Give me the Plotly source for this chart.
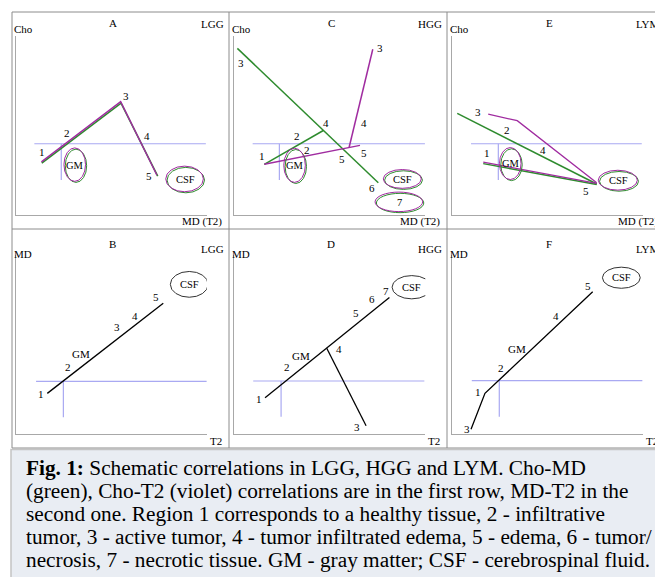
import plotly.graph_objects as go

# ---------------- data (schematic values in panel units 0..100) ----------------
# Panel A (LGG, Cho vs MD/T2)
A_green_x = [13.5, 55.0, 74.2]
A_green_y = [29.0, 62.5, 21.7]
A_violet_x = [13.3, 54.8, 73.8]
A_violet_y = [29.7, 63.3, 22.2]

# Panel C (HGG, Cho vs MD/T2)
C_green1_x = [1.6, 75.4]
C_green1_y = [93.1, 18.0]
C_green2_x = [15.7, 46.6]
C_green2_y = [28.3, 47.2]
C_violet1_x = [15.7, 65.8]
C_violet1_y = [28.3, 38.9]
C_violet2_x = [60.1, 72.5]
C_violet2_y = [37.7, 92.6]

# Panel E (LYM, Cho vs MD/T2)
E_green1_x = [2.6, 75.6]
E_green1_y = [56.8, 17.3]
E_green2_x = [16.2, 75.6]
E_green2_y = [28.7, 17.0]
E_violet1_x = [18.8, 34.0, 75.6]
E_violet1_y = [56.3, 52.7, 18.0]
E_violet2_x = [16.2, 75.6]
E_violet2_y = [29.5, 17.7]

# Panel B (LGG, MD vs T2)
B_x = [16.4, 77.1]
B_y = [22.7, 73.0]
# Panel D (HGG, MD vs T2)
D_main_x = [16.1, 81.2]
D_main_y = [20.3, 76.2]
D_branch_x = [48.4, 69.0]
D_branch_y = [47.9, 4.6]
# Panel F (LYM, MD vs T2)
F_x = [9.8, 17.1, 73.5]
F_y = [2.6, 22.7, 79.5]

# healthy-tissue reference (blue) lines: horizontal level, h-line x span, vertical x, vertical bottom
REF_Y = {"A": 39.8, "C": 39.8, "E": 39.8, "B": 29.4, "D": 29.6, "F": 29.8}
REF_X0 = {"A": 9.6, "C": 9.6, "E": 9.8, "B": 10.5, "D": 9.9, "F": 10.2}
REF_X1 = {"A": 99.4, "C": 99.8, "E": 99.2, "B": 99.8, "D": 99.5, "F": 99.5}
REF_VX = {"A": 23.7, "C": 23.6, "E": 24.1, "B": 24.8, "D": 24.5, "F": 24.6}
REF_VB = {"A": 19.6, "C": 19.6, "E": 19.6, "B": 9.3, "D": 9.7, "F": 9.7}

# ellipses: (panel, label, cx, cy, half-width, half-height)
ELLIPSES = [
    ("A", "GM", 31.0, 27.9, 5.7, 9.2),
    ("A", "CSF", 88.5, 19.9, 9.9, 7.0),
    ("C", "GM", 31.8, 27.5, 5.7, 9.4),
    ("C", "CSF", 88.2, 19.9, 10.0, 5.1),
    ("C", "7", 86.4, 7.1, 12.5, 5.3),
    ("E", "GM", 30.6, 28.5, 5.7, 8.8),
    ("E", "CSF", 86.9, 19.2, 10.3, 5.4),
    ("B", "CSF", 90.7, 83.6, 9.9, 7.2),
    ("D", "CSF", 92.9, 82.0, 10.3, 6.5),
    ("F", "CSF", 88.5, 87.3, 9.9, 5.9),
]

# point labels (panel, text, x, y)
LABELS = [
    ("A", "1", 13.8, 35.4), ("A", "2", 26.5, 46.0), ("A", "3", 57.6, 66.6),
    ("A", "4", 68.6, 44.1), ("A", "5", 69.6, 21.8),
    ("C", "3", 3.4, 85.1), ("C", "3", 76.3, 93.1), ("C", "4", 48.0, 51.2),
    ("C", "4", 68.1, 51.6), ("C", "2", 32.7, 44.3), ("C", "2", 37.9, 36.3),
    ("C", "1", 14.3, 33.0), ("C", "5", 56.2, 31.5), ("C", "5", 67.9, 34.8),
    ("C", "6", 71.9, 14.9),
    ("E", "3", 13.6, 57.7), ("E", "2", 28.8, 47.5), ("E", "4", 47.6, 36.3),
    ("E", "1", 18.0, 34.8), ("E", "5", 69.8, 13.4),
    ("B", "1", 13.1, 22.3), ("B", "2", 27.1, 37.6), ("B", "GM", 34.0, 44.5),
    ("B", "3", 52.7, 59.6), ("B", "4", 62.3, 66.1), ("B", "5", 73.3, 76.4),
    ("D", "1", 13.1, 19.6), ("D", "2", 27.7, 37.6), ("D", "GM", 34.9, 43.6),
    ("D", "4", 54.8, 47.3), ("D", "3", 64.1, 4.1), ("D", "5", 63.7, 67.4),
    ("D", "6", 72.3, 75.4), ("D", "7", 79.6, 79.9),
    ("F", "3", 7.5, 2.8), ("F", "1", 13.6, 23.3), ("F", "2", 25.5, 36.7),
    ("F", "GM", 34.0, 47.3), ("F", "4", 54.3, 66.1), ("F", "5", 70.9, 82.7),
]

PANEL_TITLES = {"A": "LGG", "C": "HGG", "E": "LYM", "B": "LGG", "D": "HGG", "F": "LYM"}
Y_NAMES = {"A": "Cho", "C": "Cho", "E": "Cho", "B": "MD", "D": "MD", "F": "MD"}
X_NAMES = {"A": "MD (T2)", "C": "MD (T2)", "E": "MD (T2)", "B": "T2", "D": "T2", "F": "T2"}

CAPTION = [
    "<b>Fig. 1:</b> Schematic correlations in LGG, HGG and LYM. Cho-MD",
    "(green), Cho-T2 (violet) correlations are in the first row, MD-T2 in the",
    "second one. Region 1 corresponds to a healthy tissue, 2 - infiltrative",
    "tumor, 3 - active tumor, 4 - tumor infiltrated edema, 5 - edema, 6 - tumor/",
    "necrosis, 7 - necrotic tissue. GM - gray matter; CSF - cerebrospinal fluid.",
]

# ---------------- styling / layout ----------------
W, H = 655, 577
FONT = "Liberation Serif"
GREEN = "#2e8b2e"
VIOLET = "#a02ca0"
BLUE = "#a9a9f2"
AXGREY = "#a8a8a8"
BORDER = "#8c8c8c"

COL_X = [16.0, 234.3, 452.3]
ROW_Y = [215.0, 434.0]
AW, AH = 191.0, 179.0
PANELS = {"A": (1, 0, 0), "C": (2, 1, 0), "E": (3, 2, 0),
          "B": (4, 0, 1), "D": (5, 1, 1), "F": (6, 2, 1)}


def px(x):
    return x / W


def py(y):
    return 1 - y / H


def refs(p):
    n = PANELS[p][0]
    return ("x" if n == 1 else f"x{n}"), ("y" if n == 1 else f"y{n}")


fig = go.Figure()


def line(p, xs, ys, color, width=1.5):
    xr, yr = refs(p)
    fig.add_trace(go.Scatter(x=xs, y=ys, mode="lines", xaxis=xr, yaxis=yr,
                             line=dict(color=color, width=width),
                             hoverinfo="skip", showlegend=False))


# blue reference lines
for p in PANELS:
    line(p, [REF_X0[p], REF_X1[p], None, REF_VX[p], REF_VX[p]],
         [REF_Y[p], REF_Y[p], None, REF_Y[p], REF_VB[p]], BLUE, 1.2)

line("A", A_green_x, A_green_y, GREEN, 1.6)
line("A", A_violet_x, A_violet_y, VIOLET, 1.4)
line("C", C_green1_x, C_green1_y, GREEN)
line("C", C_green2_x, C_green2_y, GREEN)
line("C", C_violet1_x, C_violet1_y, VIOLET)
line("C", C_violet2_x, C_violet2_y, VIOLET)
line("E", E_green1_x, E_green1_y, GREEN)
line("E", E_green2_x, E_green2_y, GREEN)
line("E", E_violet1_x, E_violet1_y, VIOLET, 1.3)
line("E", E_violet2_x, E_violet2_y, VIOLET, 1.3)
line("B", B_x, B_y, "black", 1.3)
line("D", D_main_x, D_main_y, "black", 1.3)
line("D", D_branch_x, D_branch_y, "black", 1.3)
line("F", F_x, F_y, "black", 1.3)

shapes = []
annotations = []

# ellipses
for p, txt, cx, cy, hw, hh in ELLIPSES:
    xr, yr = refs(p)
    top_row = PANELS[p][2] == 0
    if top_row:
        shapes.append(dict(type="circle", xref=xr, yref=yr,
                           x0=cx - hw + 0.5, x1=cx + hw + 0.3, y0=cy - hh - 0.5, y1=cy + hh - 0.3,
                           line=dict(color=GREEN, width=1)))
        shapes.append(dict(type="circle", xref=xr, yref=yr,
                           x0=cx - hw - 0.2, x1=cx + hw - 0.3, y0=cy - hh + 0.1, y1=cy + hh + 0.4,
                           line=dict(color=VIOLET, width=1)))
    else:
        shapes.append(dict(type="circle", xref=xr, yref=yr,
                           x0=cx - hw, x1=cx + hw, y0=cy - hh, y1=cy + hh,
                           line=dict(color="#333333", width=1)))
    annotations.append(dict(xref=xr, yref=yr, x=cx, y=cy, text=txt, showarrow=False,
                            font=dict(family=FONT, size=10.5, color="black"),
                            xanchor="center", yanchor="middle"))

# point labels
for p, txt, x, y in LABELS:
    xr, yr = refs(p)
    annotations.append(dict(xref=xr, yref=yr, x=x, y=y, text=txt, showarrow=False,
                            font=dict(family=FONT, size=11, color="black"),
                            xanchor="center", yanchor="middle"))

# axes, titles
layout_axes = {}
for p, (n, c, r) in PANELS.items():
    ox, oy = COL_X[c], ROW_Y[r]
    ax = dict(range=[0, 100], showgrid=False, zeroline=False, showticklabels=False,
              ticks="", showline=True, linecolor=AXGREY, linewidth=1, fixedrange=True)
    xa = dict(ax, domain=[px(ox), px(ox + AW)], anchor=refs(p)[1])
    ya = dict(ax, domain=[py(oy), py(oy - AH)], anchor=refs(p)[0])
    layout_axes["xaxis" if n == 1 else f"xaxis{n}"] = xa
    layout_axes["yaxis" if n == 1 else f"yaxis{n}"] = ya

    top = 12 if r == 0 else 229
    dy = 0 if r == 0 else 4
    fs = dict(family=FONT, size=11, color="black")
    annotations.append(dict(xref="paper", yref="paper", x=px(ox + 97), y=py(top + 11 + dy),
                            text=p, showarrow=False, font=fs, xanchor="center", yanchor="middle"))
    annotations.append(dict(xref="paper", yref="paper", x=px(ox + 210), y=py(top + 12 + 2 * dy),
                            text=PANEL_TITLES[p], showarrow=False, font=fs,
                            xanchor="right", yanchor="middle"))
    annotations.append(dict(xref="paper", yref="paper", x=px(ox - 4), y=py(top + 17 + 2 * dy),
                            text=Y_NAMES[p], showarrow=False, font=fs,
                            xanchor="left", yanchor="middle"))
    annotations.append(dict(xref="paper", yref="paper", x=px(ox + 208), y=py(oy + 7),
                            text=X_NAMES[p], showarrow=False, font=fs,
                            xanchor="right", yanchor="middle"))

# panel borders
for x in [12, 229, 447]:
    shapes.append(dict(type="line", xref="paper", yref="paper", x0=px(x), x1=px(x),
                       y0=py(12), y1=py(448), line=dict(color=BORDER, width=1)))
for y in [12, 229, 448]:
    shapes.append(dict(type="line", xref="paper", yref="paper", x0=px(12), x1=1,
                       y0=py(y), y1=py(y), line=dict(color=BORDER, width=1)))

# caption box
shapes.append(dict(type="rect", xref="paper", yref="paper", x0=px(11), x1=1.01,
                   y0=-0.01, y1=py(449.5), fillcolor="#e9edf3",
                   line=dict(color="#c4c4c4", width=1.5), layer="below"))
for i, t in enumerate(CAPTION):
    annotations.append(dict(xref="paper", yref="paper", x=px(24), y=py(467.5 + i * 23.2),
                            text=t, showarrow=False, xanchor="left", yanchor="middle",
                            font=dict(family=FONT, size=21.3, color="black")))

fig.update_layout(width=W, height=H, margin=dict(l=0, r=0, t=0, b=0),
                  paper_bgcolor="white", plot_bgcolor="rgba(0,0,0,0)",
                  shapes=shapes, annotations=annotations, showlegend=False,
                  font=dict(family=FONT),
                  **layout_axes)

fig.write_html("out.html", config={"displayModeBar": False},
               post_script="document.body.style.margin='0';")
